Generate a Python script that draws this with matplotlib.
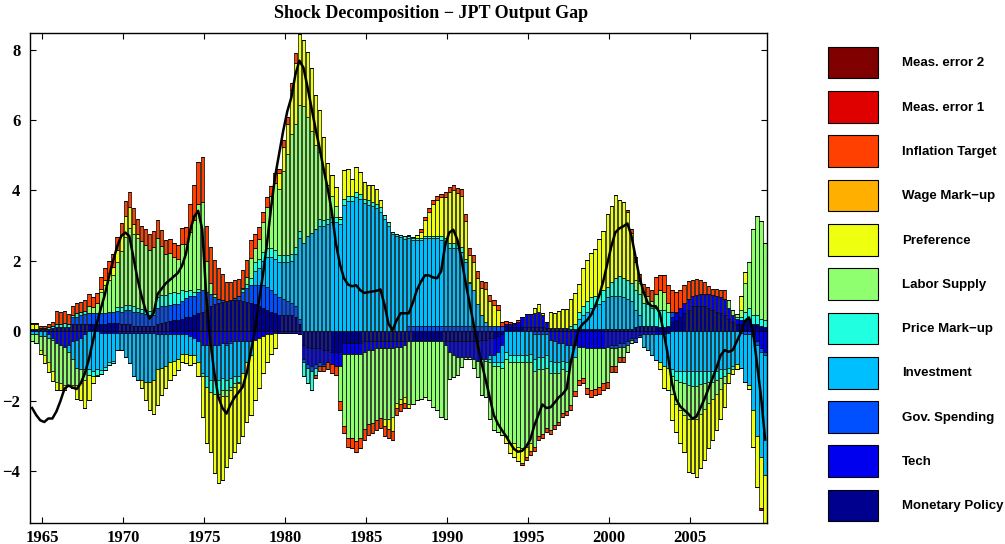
import numpy as np
import matplotlib
matplotlib.use('Agg')
from matplotlib import pyplot as plt
from matplotlib.patches import Patch

# Quarterly contributions to the output gap, 1964Q2 - 2009Q3
FIRST_YEAR, FIRST_QUARTER = 1964, 2

monetary_policy = [
    0.04, 0.04, 0.04, 0.04, 0.06, 0.07, 0.10, 0.10, 0.12, 0.12,
    0.18, 0.18, 0.20, 0.20, 0.20, 0.20, 0.20, 0.20, 0.20, 0.22,
    0.22, 0.22, 0.20, 0.20, 0.18, 0.15, 0.15, 0.15, 0.15, 0.15,
    0.15, 0.20, 0.22, 0.25, 0.28, 0.30, 0.32, 0.35, 0.38, 0.40,
    0.45, 0.50, 0.55, 0.60, 0.70, 0.75, 0.80, 0.82, 0.85, 0.87,
    0.88, 0.88, 0.85, 0.82, 0.80, 0.75, 0.70, 0.65, 0.60, 0.55,
    0.50, 0.45, 0.45, 0.45, 0.45, 0.40, 0.20, -0.40, -0.45, -0.50,
    -0.50, -0.50, -0.55, -0.55, -0.60, -0.60, -0.60, -0.35, -0.35, -0.35,
    -0.35, -0.35, -0.30, -0.30, -0.30, -0.30, -0.30, -0.30, -0.30, -0.30,
    -0.30, -0.30, -0.30, -0.30, -0.30, -0.30, -0.30, -0.30, -0.30, -0.30,
    -0.30, -0.30, -0.30, -0.30, -0.30, -0.30, -0.30, -0.30, -0.30, -0.30,
    -0.30, -0.25, -0.25, -0.20, -0.20, -0.15, -0.10, 0.15, 0.12, 0.10,
    0.10, 0.10, 0.10, 0.10, 0.10, 0.10, 0.10, 0.08, 0.08, 0.08,
    0.08, 0.08, 0.08, 0.05, 0.05, 0.05, 0.05, 0.05, 0.05, 0.05,
    0.05, 0.05, 0.05, 0.05, 0.05, 0.05, 0.05, 0.05, 0.05, 0.10,
    0.15, 0.15, 0.15, 0.15, 0.15, 0.10, 0.10, 0.15, 0.25, 0.30,
    0.40, 0.50, 0.60, 0.70, 0.72, 0.72, 0.70, 0.65, 0.60, 0.55,
    0.50, 0.45, 0.35, 0.25, 0.20, 0.20, 0.30, 0.35, 0.20, 0.20,
    0.15, 0.10,
]

tech = [
    0.00, 0.00, 0.00, 0.00, -0.10, -0.20, -0.35, -0.40, -0.45, -0.40,
    -0.30, -0.25, -0.20, -0.10, 0.00, 0.00, 0.00, -0.05, -0.05, -0.05,
    -0.05, -0.05, -0.05, -0.05, -0.05, -0.05, -0.05, -0.05, -0.05, -0.05,
    -0.05, -0.10, -0.10, -0.10, -0.10, -0.10, -0.10, -0.10, -0.10, -0.15,
    -0.20, -0.30, -0.40, -0.40, -0.40, -0.40, -0.40, -0.35, -0.35, -0.30,
    -0.30, -0.30, -0.30, -0.30, -0.30, -0.25, -0.20, -0.15, -0.10, -0.10,
    -0.05, -0.05, -0.05, -0.05, -0.05, -0.05, -0.10, -0.40, -0.50, -0.50,
    -0.45, -0.40, -0.40, -0.35, -0.35, -0.40, -0.40, -0.30, -0.30, -0.30,
    -0.30, -0.30, -0.30, -0.25, -0.25, -0.20, -0.20, -0.20, -0.20, -0.20,
    -0.15, -0.15, -0.10, 0.00, 0.00, 0.00, 0.00, 0.00, 0.00, 0.00,
    0.00, 0.00, -0.10, -0.30, -0.40, -0.45, -0.45, -0.45, -0.45, -0.50,
    -0.55, -0.55, -0.55, -0.50, -0.50, -0.45, -0.30, 0.04, 0.06, 0.08,
    0.15, 0.30, 0.38, 0.38, 0.40, 0.45, 0.35, 0.18, -0.25, -0.30,
    -0.35, -0.35, -0.40, -0.40, -0.40, -0.45, -0.45, -0.50, -0.50, -0.50,
    -0.50, -0.50, -0.45, -0.40, -0.40, -0.35, -0.35, -0.30, -0.20, -0.20,
    -0.12, -0.10, -0.10, -0.10, -0.10, -0.10, -0.10, -0.05, 0.15, 0.20,
    0.25, 0.28, 0.30, 0.30, 0.30, 0.32, 0.35, 0.40, 0.42, 0.45,
    0.45, 0.45, 0.30, 0.20, 0.15, 0.10, 0.00, 0.00, -0.10, -0.30,
    -0.50, -0.60,
]

gov_spending = [
    0.00, 0.00, 0.00, 0.00, 0.00, 0.00, 0.00, 0.00, 0.00, 0.00,
    0.20, 0.22, 0.25, 0.27, 0.30, 0.30, 0.30, 0.30, 0.30, 0.32,
    0.33, 0.35, 0.35, 0.38, 0.40, 0.40, 0.38, 0.35, 0.33, 0.30,
    0.30, 0.45, 0.50, 0.45, 0.45, 0.45, 0.45, 0.50, 0.55, 0.60,
    0.55, 0.60, 0.60, 0.50, 0.35, 0.20, 0.10, 0.05, -0.05, -0.05,
    0.05, 0.10, 0.25, 0.40, 0.50, 0.55, 0.60, 0.65, 0.65, 0.60,
    0.55, 0.50, 0.45, 0.40, 0.35, 0.30, 0.15, -0.10, -0.10, -0.15,
    -0.10, -0.10, -0.05, 0.00, 0.00, 0.00, 0.00, 0.00, 0.00, 0.00,
    0.00, 0.00, 0.00, 0.00, 0.00, 0.00, 0.00, 0.00, 0.00, 0.00,
    0.00, 0.00, 0.00, 0.15, 0.15, 0.15, 0.15, 0.15, 0.15, 0.15,
    0.15, 0.15, 0.15, 0.15, 0.15, 0.15, 0.15, 0.15, 0.15, 0.15,
    0.15, 0.15, 0.15, 0.15, 0.15, 0.15, 0.15, 0.00, 0.00, 0.00,
    0.00, 0.00, 0.00, 0.00, -0.10, -0.10, -0.10, -0.10, 0.00, 0.00,
    0.00, 0.00, 0.00, 0.00, 0.00, 0.00, 0.00, 0.00, 0.00, 0.00,
    0.00, 0.00, 0.00, -0.10, -0.10, -0.10, -0.10, -0.10, -0.06, -0.11,
    -0.05, 0.00, 0.00, 0.00, 0.00, 0.00, 0.00, 0.00, 0.15, 0.05,
    0.00, 0.00, 0.00, 0.00, 0.00, 0.00, 0.00, 0.00, 0.00, 0.00,
    0.00, 0.00, 0.00, 0.00, 0.00, -0.07, -0.10, -0.10, -0.05, -0.10,
    -0.10, -0.10,
]

investment = [
    -0.10, -0.10, -0.15, -0.15, -0.10, -0.05, 0.00, 0.00, 0.00, -0.20,
    -0.50, -0.80, -0.90, -1.00, -1.10, -1.15, -1.10, -1.07, -0.97, -0.85,
    -0.80, -0.50, -0.50, -0.69, -0.88, -1.25, -1.35, -1.35, -1.40, -1.40,
    -1.35, -1.00, -0.95, -0.90, -0.80, -0.75, -0.70, -0.55, -0.55, -0.55,
    -0.50, -0.60, -0.80, -0.90, -1.00, -1.00, -1.00, -1.00, -1.00, -1.00,
    -1.00, -1.00, -0.90, -0.60, -0.40, 0.40, 0.50, 0.70, 0.85, 0.95,
    1.00, 1.00, 1.05, 1.10, 1.20, 1.50, 2.30, 2.50, 2.70, 2.80,
    2.90, 3.00, 3.00, 3.05, 3.10, 3.10, 3.05, 3.60, 3.70, 3.70,
    3.80, 3.75, 3.65, 3.60, 3.55, 3.50, 3.40, 3.20, 3.00, 2.75,
    2.70, 2.66, 2.63, 2.50, 2.45, 2.45, 2.45, 2.50, 2.50, 2.50,
    2.50, 2.45, 2.40, 2.20, 2.20, 2.20, 2.10, 1.80, 1.20, 1.00,
    0.60, 0.30, 0.10, -0.10, -0.20, -0.30, -0.50, -0.60, -0.70, -0.70,
    -0.70, -0.70, -0.70, -0.65, -0.70, -0.65, -0.65, -0.60, -0.60, -0.60,
    -0.55, -0.50, -0.50, -0.45, -0.35, 0.30, 0.40, 0.50, 0.60, 0.65,
    0.70, 0.80, 0.90, 0.95, 0.95, 0.95, 0.90, 0.85, 0.80, 0.50,
    0.30, -0.36, -0.45, -0.60, -0.74, -0.80, -0.90, -1.00, -1.10, -1.15,
    -1.15, -1.15, -1.15, -1.15, -1.15, -1.15, -1.15, -1.15, -1.15, -1.15,
    -1.10, -1.10, -1.05, -1.00, -0.95, -1.00, -1.35, -1.45, -2.10, -2.60,
    -3.00, -3.40,
]

price_markup = [
    0.00, 0.00, 0.05, 0.05, 0.06, 0.07, 0.10, 0.09, 0.10, 0.08,
    0.07, 0.10, 0.08, 0.10, -0.15, -0.15, -0.15, -0.10, -0.10, -0.08,
    -0.08, 0.10, 0.12, 0.15, 0.15, 0.15, 0.12, 0.12, 0.12, 0.12,
    0.15, 0.30, 0.30, 0.33, 0.35, 0.35, 0.32, 0.30, 0.20, 0.15,
    0.10, 0.10, -0.10, -0.30, -0.35, -0.40, -0.40, -0.35, -0.30, -0.25,
    -0.20, -0.15, 0.08, 0.10, 0.20, 0.25, 0.25, 0.25, 0.25, 0.25,
    0.25, 0.20, 0.20, 0.20, 0.20, 0.20, 0.20, -0.40, -0.45, -0.55,
    -0.20, 0.20, 0.15, 0.15, 0.15, 0.15, 0.15, 0.15, 0.15, 0.15,
    0.15, 0.15, 0.12, 0.12, 0.12, 0.12, 0.12, 0.10, 0.10, 0.07,
    0.07, 0.07, 0.07, 0.05, 0.05, 0.05, 0.05, 0.05, 0.05, 0.05,
    0.05, 0.10, 0.10, 0.15, 0.15, 0.15, 0.15, 0.10, 0.05, 0.00,
    0.00, 0.00, -0.05, -0.10, -0.10, -0.10, -0.15, -0.20, -0.20, -0.20,
    -0.20, -0.20, -0.20, -0.25, -0.35, -0.35, -0.35, -0.35, -0.35, -0.30,
    -0.30, -0.25, -0.25, 0.10, 0.15, 0.20, 0.25, 0.30, 0.30, 0.30,
    0.30, 0.30, 0.30, 0.40, 0.50, 0.55, 0.55, 0.55, 0.50, 0.55,
    0.60, 0.65, 0.60, 0.50, 0.50, 0.50, 0.50, 0.40, -0.20, -0.25,
    -0.30, -0.35, -0.40, -0.42, -0.42, -0.38, -0.35, -0.30, -0.30, -0.25,
    -0.25, -0.20, -0.15, -0.10, 0.05, 0.10, 0.25, 0.30, 0.25, 0.25,
    0.20, 0.20,
]

labor_supply = [
    -0.20, -0.26, -0.40, -0.55, -0.70, -0.90, -1.10, -1.10, -1.10, -0.95,
    -0.74, -0.50, -0.40, -0.30, 0.20, 0.17, 0.28, 0.60, 0.80, 0.91,
    1.03, 1.30, 1.60, 1.95, 2.20, 2.05, 2.00, 1.93, 1.85, 1.74,
    1.80, 1.70, 1.40, 1.15, 1.15, 1.00, 0.95, 1.32, 1.33, 1.66,
    2.05, 2.41, 2.51, 0.90, 0.30, 0.10, -0.10, -0.15, -0.15, -0.10,
    -0.10, -0.05, 0.05, 0.20, 0.58, 0.42, 0.56, 0.84, 1.17, 1.49,
    1.90, 1.90, 2.40, 2.90, 3.40, 3.50, 3.60, 3.90, 3.40, 2.90,
    2.40, 1.90, 1.45, 0.95, 0.60, 0.30, -1.00, -2.07, -2.40, -2.40,
    -2.50, -2.40, -2.20, -2.12, -2.07, -2.03, -1.98, -2.00, -2.00, -1.95,
    -1.60, -1.50, -1.50, -1.80, -1.80, -1.68, -1.63, -1.58, -1.68, -1.87,
    -1.96, -2.15, -2.10, -0.76, -0.61, -0.51, -0.28, -0.04, -0.04, -0.27,
    -0.46, -1.03, -1.03, -1.60, -1.83, -1.88, -1.92, -2.20, -2.30, -2.30,
    -2.40, -2.45, -2.40, -2.30, -2.15, -1.90, -1.85, -1.73, -1.63, -1.49,
    -1.39, -1.25, -1.15, -1.26, -0.96, -0.95, -0.90, -1.12, -1.20, -1.15,
    -1.11, -1.00, -1.00, -0.50, -0.50, -0.30, -0.30, -0.20, -0.10, 0.30,
    0.30, 0.30, 0.25, 0.20, 0.40, 0.55, 0.50, 0.25, -0.50, -0.70,
    -0.80, -0.90, -0.95, -0.95, -0.95, -0.85, -0.72, -0.60, -0.50, -0.40,
    -0.30, -0.20, 0.24, 0.14, 0.09, 0.20, 0.80, 1.30, 2.45, 2.82,
    2.78, 2.20,
]

preference = [
    0.15, 0.16, -0.10, -0.21, -0.27, -0.27, -0.24, -0.20, -0.15, 0.00,
    -0.10, -0.38, -0.46, -0.80, -0.73, -0.20, -0.05, 0.10, 0.15, 0.20,
    0.25, 0.34, 0.45, 0.60, 0.60, 0.30, 0.10, -0.24, -0.53, -0.81,
    -0.96, -1.02, -0.78, -0.64, -0.50, -0.41, -0.32, -0.23, -0.28, -0.28,
    -0.23, -0.40, -1.15, -1.60, -1.70, -2.26, -2.45, -2.40, -2.02, -1.94,
    -1.85, -1.71, -1.80, -1.70, -1.71, -1.72, -1.44, -1.05, -0.78, -0.55,
    -0.45, 0.45, 0.70, 0.85, 1.25, 1.72, 2.00, 1.88, 1.85, 1.78,
    1.42, 1.19, 0.93, 0.62, 0.59, 0.55, 0.05, 0.83, 0.75, 0.49,
    0.72, 0.63, 0.48, 0.43, 0.50, 0.41, 0.20, -0.20, -0.30, -0.40,
    -0.15, -0.15, -0.15, -0.10, 0.03, 0.08, 0.17, 0.45, 0.69, 0.92,
    1.04, 1.11, 1.16, 1.45, 1.50, 1.43, 1.43, 1.09, 0.75, 0.80,
    0.76, 0.77, 0.95, 0.70, 0.59, 0.45, 0.00, -0.20, -0.29, -0.39,
    -0.40, -0.43, -0.29, -0.24, 0.14, 0.21, 0.06, 0.00, 0.46, 0.42,
    0.48, 0.53, 0.53, 0.77, 0.88, 0.78, 1.08, 1.16, 1.27, 1.32,
    1.58, 1.69, 2.09, 2.15, 2.37, 2.19, 2.18, 1.94, 1.44, 0.51,
    0.08, 0.00, 0.00, 0.00, 0.00, -0.20, -0.64, -0.65, -0.75, -0.78,
    -0.96, -1.05, -1.52, -1.54, -1.64, -1.54, -1.46, -1.30, -1.15, -1.03,
    -0.85, -0.67, -0.30, -0.12, -0.15, 0.39, 0.33, -0.10, -1.05, -1.45,
    -1.45, -1.40,
]

wage_markup = [0.0] * 182

inflation_target = [
    0.02, 0.02, 0.04, 0.04, 0.07, 0.12, 0.37, 0.36, 0.35, 0.29,
    0.25, 0.30, 0.30, 0.32, 0.34, 0.30, 0.30, 0.34, 0.35, 0.35,
    0.35, 0.35, 0.36, 0.42, 0.43, 0.44, 0.45, 0.45, 0.45, 0.45,
    0.45, 0.52, 0.45, 0.40, 0.40, 0.39, 0.40, 0.45, 0.50, 0.80,
    1.00, 1.20, 1.30, 1.00, 1.04, 0.96, 0.88, 0.76, 0.55, 0.53,
    0.51, 0.50, 0.50, 0.49, 0.50, 0.40, 0.35, 0.30, 0.30, 0.30,
    0.30, 0.12, 0.18, 0.18, 0.22, 0.30, 0.15, 0.00, 0.00, 0.00,
    -0.10, -0.15, -0.15, -0.20, -0.25, -0.25, -0.25, -0.20, -0.25, -0.30,
    -0.30, -0.30, -0.30, -0.30, -0.30, -0.30, -0.30, -0.30, -0.25, -0.25,
    -0.20, -0.20, -0.15, 0.03, 0.00, 0.00, 0.07, 0.10, 0.10, 0.10,
    0.10, 0.10, 0.15, 0.15, 0.15, 0.15, 0.20, 0.20, 0.20, 0.20,
    0.20, 0.20, 0.20, 0.17, 0.15, 0.13, 0.11, 0.10, 0.08, 0.05,
    0.05, -0.05, -0.10, -0.10, -0.12, -0.11, -0.10, -0.10, -0.10, -0.10,
    -0.10, -0.10, -0.10, -0.15, -0.15, -0.15, -0.15, -0.17, -0.18, -0.18,
    -0.18, -0.19, -0.19, -0.17, -0.17, -0.13, -0.13, 0.05, 0.10, 0.15,
    0.20, 0.23, 0.25, 0.31, 0.47, 0.45, 0.50, 0.50, 0.60, 0.57,
    0.50, 0.52, 0.52, 0.44, 0.47, 0.40, 0.35, 0.22, 0.18, 0.18,
    0.22, 0.25, 0.00, 0.00, 0.00, 0.00, 0.00, 0.00, 0.00, 0.00,
    0.00, 0.00,
]

meas_error_1 = [0.0] * 180 + [-0.05, -0.05]
meas_error_2 = [0.0] * 182

output_gap = [
    -2.20, -2.40, -2.55, -2.60, -2.50, -2.50, -2.30, -2.00, -1.65, -1.56,
    -1.62, -1.66, -1.50, -1.22, -0.82, -0.30, 0.22, 0.65, 1.05, 1.55,
    2.00, 2.40, 2.70, 2.80, 2.70, 2.10, 1.50, 1.00, 0.60, 0.35,
    0.50, 1.05, 1.20, 1.35, 1.45, 1.55, 1.65, 1.85, 2.20, 2.85,
    3.25, 3.42, 2.90, 1.00, -0.30, -1.20, -1.90, -2.20, -2.36, -2.10,
    -1.90, -1.75, -1.60, -1.20, -0.60, 0.00, 0.85, 1.60, 2.50, 3.50,
    4.40, 5.05, 5.70, 6.25, 6.65, 7.30, 7.70, 7.50, 6.95, 6.35,
    5.75, 5.20, 4.60, 4.05, 3.40, 2.50, 1.90, 1.50, 1.32, 1.27,
    1.30, 1.16, 1.08, 1.10, 1.12, 1.14, 1.18, 0.75, 0.20, 0.02,
    0.30, 0.50, 0.50, 0.50, 0.80, 1.16, 1.40, 1.58, 1.58, 1.52,
    1.50, 1.70, 2.45, 2.80, 2.88, 2.60, 2.05, 1.40, 0.80, 0.20,
    -0.40, -0.93, -1.40, -1.90, -2.40, -2.65, -2.83, -3.00, -3.20, -3.37,
    -3.45, -3.42, -3.30, -3.10, -2.70, -2.40, -2.10, -2.20, -2.18, -2.05,
    -1.90, -1.80, -1.65, -0.90, -0.40, 0.05, 0.20, 0.30, 0.45, 0.70,
    1.00, 1.40, 1.90, 2.40, 2.80, 2.92, 2.98, 3.06, 2.70, 2.10,
    1.50, 1.10, 0.80, 0.70, 0.70, 0.50, -0.08, -0.70, -1.50, -1.95,
    -2.15, -2.26, -2.36, -2.50, -2.45, -2.20, -1.95, -1.65, -1.35, -1.05,
    -0.70, -0.55, -0.60, -0.55, -0.30, -0.05, 0.28, 0.38, 0.00, -0.95,
    -1.90, -3.10,
]

shock_names = ['Monetary Policy', 'Tech', 'Gov. Spending', 'Investment',
               'Price Mark\u2212up', 'Labor Supply', 'Preference',
               'Wage Mark\u2212up', 'Inflation Target', 'Meas. error 1',
               'Meas. error 2']
shock_values = [monetary_policy, tech, gov_spending, investment, price_markup,
                labor_supply, preference, wage_markup, inflation_target,
                meas_error_1, meas_error_2]
shock_colors = ['#00008F', '#0000EE', '#0050FF', '#00BFFF', '#20FFDF',
                '#8FFF70', '#EFFF10', '#FFAF00', '#FF4000', '#DF0000',
                '#800000']

year_ticks = [1965, 1970, 1975, 1980, 1985, 1990, 1995, 2000, 2005]
y_ticks = [-4, -2, 0, 2, 4, 6, 8]

W, H = 1005, 544
fig = plt.figure(figsize=(W / 100, H / 100), dpi=100)
ax = fig.add_axes([30 / W, 1 - 522.7 / H, 736.7 / W, 489.4 / H])

n = len(output_gap)
# mid-quarter dates
dates = FIRST_YEAR + (FIRST_QUARTER - 1) / 4 + 0.125 + 0.25 * np.arange(n)

# positive and negative contributions are stacked separately
pos_bottom = np.zeros(n)
neg_bottom = np.zeros(n)
for vals, color in zip(shock_values, shock_colors):
    v = np.asarray(vals, dtype=float)
    pos = np.clip(v, 0, None)
    neg = np.clip(v, None, 0)
    ax.bar(dates, pos, width=0.21, bottom=pos_bottom, color=color,
           edgecolor='black', linewidth=0.5, zorder=2)
    ax.bar(dates, neg, width=0.21, bottom=neg_bottom, color=color,
           edgecolor='black', linewidth=0.5, zorder=2)
    pos_bottom += pos
    neg_bottom += neg

ax.plot(dates, output_gap, color='black', linewidth=1.8, zorder=3)

ax.set_xlim(1964.245, 2009.72)
ax.set_ylim(-5.47, 8.48)
ax.set_xticks(year_ticks)
ax.set_yticks(y_ticks)
tick_font = {'family': 'Liberation Serif', 'weight': 'bold', 'size': 12}
ax.set_xticklabels([str(y) for y in year_ticks], fontdict=tick_font)
ax.set_yticklabels(['\u2212%d' % -t if t < 0 else str(t) for t in y_ticks],
                   fontdict=tick_font)
ax.tick_params(direction='in', length=4, width=0.8, top=True, right=True)
ax.tick_params(axis='x', pad=5)
ax.tick_params(axis='y', pad=7)
for sp in ax.spines.values():
    sp.set_linewidth(1.0)

fig.text(431 / W, 1 - 14 / H, 'Shock Decomposition \u2212 JPT Output Gap',
         ha='center', va='center', family='Liberation Serif',
         weight='bold', size=13)

handles = [Patch(facecolor=c, edgecolor='black', linewidth=0.8, label=nm)
           for nm, c in zip(shock_names, shock_colors)][::-1]
fs = 9.5
fs_px = fs * 100 / 72
box_w, box_h, gap = 50, 31.7, 12.6
# legend box height = fs*(hh - 0.35*(hh - 0.7))
hh = (box_h / fs_px - 0.245) / 0.65
fig.legend(handles=handles, loc='upper left',
           bbox_to_anchor=(828 / W, 1 - 46.7 / H), frameon=False,
           borderpad=0, borderaxespad=0,
           prop={'family': 'Liberation Sans', 'weight': 'bold', 'size': fs},
           handlelength=box_w / fs_px, handleheight=hh,
           labelspacing=gap / fs_px, handletextpad=24 / fs_px)

fig.savefig('out.png', dpi=100)
